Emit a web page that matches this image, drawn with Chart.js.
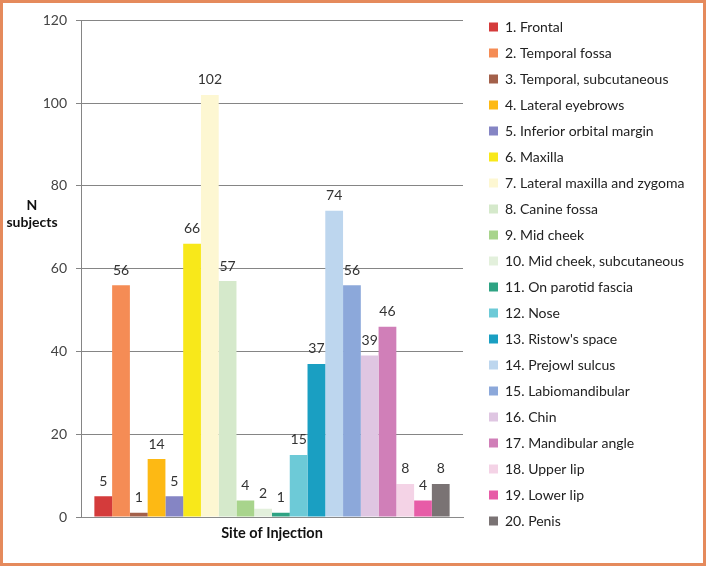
<!DOCTYPE html>
<html>
<head>
<meta charset="utf-8">
<script src="https://cdn.jsdelivr.net/npm/chart.js@4"></script>
<style>
  html, body { margin: 0; padding: 0; background: #fff; }
  #wrap { width: 706px; height: 566px; box-sizing: border-box; border: 3px solid #e58a5c; background: #fff; }
  #wrap canvas { display: block; }
</style>
</head>
<body>
<div id="wrap"><canvas id="myChart" width="700" height="560"></canvas></div>
<script>
'use strict';

let siteNames = [
  '1. Frontal', '2. Temporal fossa', '3. Temporal, subcutaneous', '4. Lateral eyebrows',
  '5. Inferior orbital margin', '6. Maxilla', '7. Lateral maxilla and zygoma', '8. Canine fossa',
  '9. Mid cheek', '10. Mid cheek, subcutaneous', '11. On parotid fascia', '12. Nose',
  "13. Ristow's space", '14. Prejowl sulcus', '15. Labiomandibular', '16. Chin',
  '17. Mandibular angle', '18. Upper lip', '19. Lower lip', '20. Penis'
];
let subjectCounts = [5, 56, 1, 14, 5, 66, 102, 57, 4, 2, 1, 15, 37, 74, 56, 39, 46, 8, 4, 8];
let barColors = [
  '#d43b3b', '#f58c55', '#a3604a', '#fdb914', '#8585c4', '#f8e81a', '#fdf7d2', '#d5e9cb',
  '#a8d48c', '#e3f0dc', '#2ea383', '#6dcad7', '#1a9fc2', '#bdd6ee', '#8ca8da', '#dfc6e2',
  '#d07fb8', '#f4d3e6', '#e75ca7', '#7a7374'
];
let categoryLabels = ['Site of Injection'];
let yTicks = [0, 20, 40, 60, 80, 100, 120];

let datasets = [];
for (let i = 0; i < siteNames.length; i++) {
  datasets.push({
    label: siteNames[i],
    data: [subjectCounts[i]],
    backgroundColor: barColors[i],
    borderWidth: 0,
    categoryPercentage: 0.93,
    barPercentage: 1.0
  });
}

// legend gets a fixed width, otherwise layout squeezes it
const legendWidthPlugin = {
  id: 'legendWidth',
  afterInit(chart) {
    let legend = chart.legend;
    let origFit = legend.fit;
    legend.fit = function () {
      origFit.call(this);
      this.width = 226;
    };
  }
};

// value labels above each bar + horizontal y title
const extrasPlugin = {
  id: 'extras',
  afterDatasetsDraw(chart) {
    let ctx = chart.ctx;
    ctx.save();
    ctx.font = '14px Lato';
    ctx.fillStyle = '#333';
    ctx.textAlign = 'center';
    ctx.textBaseline = 'middle';
    chart.data.datasets.forEach((ds, i) => {
      let bar = chart.getDatasetMeta(i).data[0];
      ctx.fillText(String(ds.data[0]), bar.x, bar.y - 15);
    });
    ctx.font = 'bold 14px Lato';
    ctx.fillStyle = '#111';
    ctx.fillText('N', 29, 202);
    ctx.fillText('subjects', 29, 219);
    ctx.restore();
  }
};

let ctx = document.getElementById('myChart').getContext('2d');
new Chart(ctx, {
  type: 'bar',
  data: { labels: categoryLabels, datasets: datasets },
  options: {
    responsive: false,
    animation: false,
    layout: { padding: { top: 5, left: 0, right: 0, bottom: 0 } },
    plugins: {
      tooltip: { enabled: false },
      legend: {
        position: 'right',
        align: 'start',
        labels: {
          boxWidth: 9,
          boxHeight: 9,
          padding: 12,
          color: '#222',
          font: { family: 'Lato', size: 14 }
        }
      }
    },
    scales: {
      x: {
        grid: { display: false },
        border: { display: true, color: '#8a8a8a' },
        ticks: { display: false },
        title: {
          display: true,
          text: 'Site of Injection',
          color: '#111',
          font: { family: 'Lato', size: 14.5, weight: 'bold' },
          padding: { top: 4, bottom: 21 }
        },
        afterFit(scale) { scale.height = 46; }
      },
      xTop: {
        type: 'category',
        position: 'top',
        grid: { display: false },
        border: { display: false },
        ticks: { display: false },
        afterFit(scale) { scale.height = 10; }
      },
      y: {
        min: 0,
        max: 120,
        afterBuildTicks(scale) { scale.ticks = yTicks.map(v => ({ value: v })); },
        grid: { color: '#858585', tickLength: 5 },
        border: { color: '#858585' },
        ticks: { color: '#444', padding: 9, font: { family: 'Lato', size: 14 } },
        afterFit(scale) { scale.width = 78; }
      },
      yR: {
        type: 'linear',
        position: 'right',
        grid: { display: false },
        border: { display: false },
        ticks: { display: false },
        afterFit(scale) { scale.width = 14; }
      }
    }
  },
  plugins: [legendWidthPlugin, extrasPlugin]
});
</script>
</body>
</html>
